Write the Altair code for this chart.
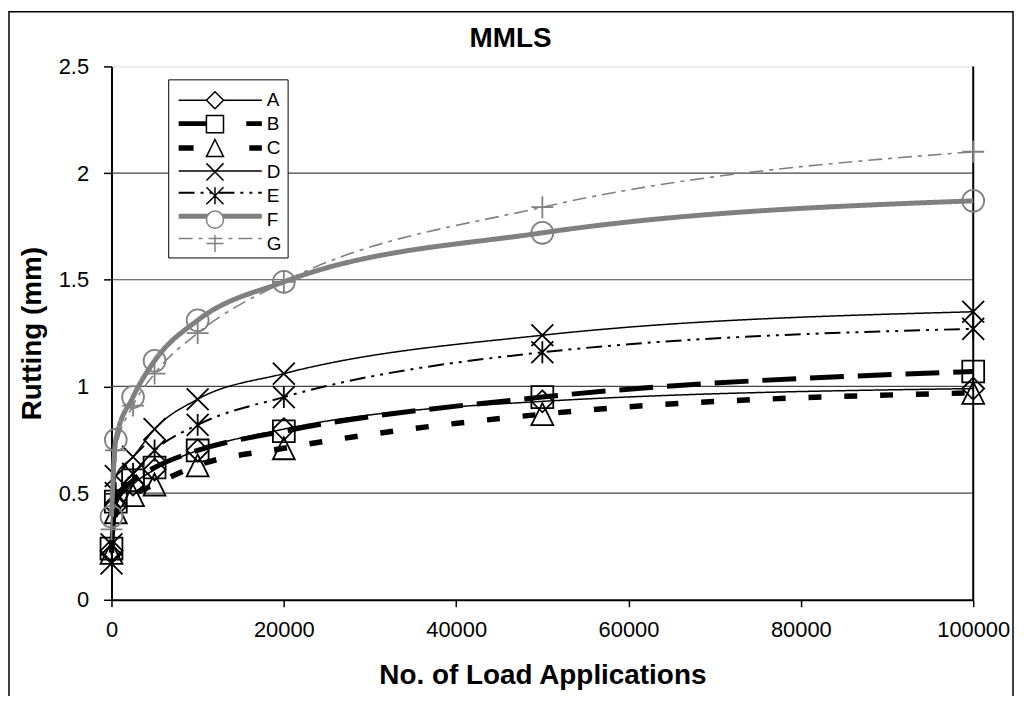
import altair as alt
import pandas as pd

# ---------------- data ----------------
loads = [0, 500, 2500, 5000, 10000, 20000, 50000, 100000]
series_names = ["A", "B", "C", "D", "E", "F", "G"]
rut_A = [0.23, 0.44, 0.54, 0.61, 0.70, 0.80, 0.93, 0.99]
rut_B = [0.24, 0.46, 0.56, 0.62, 0.70, 0.79, 0.95, 1.07]
rut_C = [0.22, 0.41, 0.49, 0.54, 0.63, 0.71, 0.87, 0.97]
rut_D = [0.17, 0.58, 0.67, 0.80, 0.94, 1.06, 1.24, 1.35]
rut_E = [0.26, 0.50, 0.59, 0.70, 0.82, 0.95, 1.16, 1.27]
rut_F = [0.39, 0.75, 0.95, 1.12, 1.31, 1.49, 1.72, 1.87]
rut_G = [0.33, 0.70, 0.91, 1.06, 1.25, 1.49, 1.84, 2.10]
rutting = {"A": rut_A, "B": rut_B, "C": rut_C, "D": rut_D,
           "E": rut_E, "F": rut_F, "G": rut_G}

x_ticks = [0, 20000, 40000, 60000, 80000, 100000]
y_ticks = [0, 0.5, 1, 1.5, 2, 2.5]
grid_values = [0.5, 1.0, 1.5, 2.0]
right_edge = [100000]

# ---------------- styles ----------------
DIAMOND = "M0,-1L1,0L0,1L-1,0Z"
SQUARE = "M-1,-1L1,-1L1,1L-1,1Z"
TRIANGLE = "M0,-1L1,1L-1,1Z"
XMARK = "M-1,-1L1,1M-1,1L1,-1"
ASTER = "M-1,-1L1,1M-1,1L1,-1M0,-1L0,1"
CIRCLE = "circle"
PLUS = "M-1,0L1,0M0,-1L0,1"

# smaller versions used for the legend symbols
k = 0.78
L_DIAMOND = f"M0,-{k}L{k},0L0,{k}L-{k},0Z"
L_SQUARE = f"M-{k},-{k}L{k},-{k}L{k},{k}L-{k},{k}Z"
L_TRIANGLE = f"M0,-{k}L{k},{k}L-{k},{k}Z"
L_XMARK = f"M-{k},-{k}L{k},{k}M-{k},{k}L{k},-{k}"
L_ASTER = f"M-{k},-{k}L{k},{k}M-{k},{k}L{k},-{k}M0,-{k}L0,{k}"
L_CIRCLE = f"M{k},0A{k},{k} 0 1,1 -{k},0A{k},{k} 0 1,1 {k},0Z"
L_PLUS = f"M-{k},0L{k},0M0,-{k}L0,{k}"

GRAY = "#808080"
line_color = {"A": "black", "B": "black", "C": "black", "D": "black",
              "E": "black", "F": GRAY, "G": GRAY}
line_width = {"A": 1.5, "B": 5, "C": 5.5, "D": 1.5, "E": 2, "F": 5, "G": 1.6}
line_dash = {"A": [1, 0], "B": [34, 14], "C": [13, 23], "D": [1, 0],
             "E": [16, 6, 3, 6, 3, 6], "F": [1, 0], "G": [14, 6, 4, 6]}
legend_dash = {"A": [1, 0], "B": [30, 38], "C": [15, 56], "D": [1, 0],
               "E": [16, 6, 3, 6, 3, 6], "F": [1, 0], "G": [14, 6, 4, 6]}
marker = {"A": DIAMOND, "B": SQUARE, "C": TRIANGLE, "D": XMARK,
          "E": ASTER, "F": CIRCLE, "G": PLUS}
legend_marker = {"A": L_DIAMOND, "B": L_SQUARE, "C": L_TRIANGLE, "D": L_XMARK,
                 "E": L_ASTER, "F": L_CIRCLE, "G": L_PLUS}

FONT = "Liberation Sans"
W, H = 866, 536

xscale = alt.Scale(domain=[0, 100000], nice=False, zero=False)
yscale = alt.Scale(domain=[0, 2.5], nice=False, zero=False)

xaxis = alt.Axis(title="No. of Load Applications", values=x_ticks, format="d",
                 labelFont=FONT, labelFontSize=22, labelColor="black",
                 labelPadding=13, labelFlush=False, labelOverlap=False,
                 tickColor="black", tickSize=7, tickWidth=1.5,
                 domainColor="black", domainWidth=2, grid=False,
                 titleFont=FONT, titleFontSize=28, titleFontWeight="bold",
                 titleColor="black", titlePadding=21)
yaxis = alt.Axis(title="Rutting (mm)", values=y_ticks, format="~g",
                 labelFont=FONT, labelFontSize=22, labelColor="black",
                 labelPadding=15, labelFlush=False, labelOverlap=False,
                 tickColor="black", tickSize=8, tickWidth=1.5,
                 domainColor="black", domainWidth=2, grid=False,
                 titleFont=FONT, titleFontSize=28, titleFontWeight="bold",
                 titleColor="black", titlePadding=12)


def X(field):
    return alt.X(field, scale=xscale, axis=xaxis)


def Y(field):
    return alt.Y(field, scale=yscale, axis=yaxis)


layers = []

# horizontal gridlines
grid_df = pd.DataFrame({"g": grid_values})
layers.append(alt.Chart(grid_df).mark_rule(color="#444444", strokeWidth=1.2)
              .encode(y=Y("g:Q")))

# right border line at 100000
edge_df = pd.DataFrame({"e": right_edge})
layers.append(alt.Chart(edge_df).mark_rule(color="black", strokeWidth=2)
              .encode(x=X("e:Q")))

# series
for s in series_names:
    df = pd.DataFrame({"load": loads, "rut": rutting[s]})
    layers.append(
        alt.Chart(df).mark_line(interpolate="monotone", color=line_color[s],
                                strokeWidth=line_width[s],
                                strokeDash=line_dash[s])
        .encode(x=X("load:Q"), y=Y("rut:Q"))
    )
    layers.append(
        alt.Chart(df).mark_point(shape=marker[s], size=484, filled=False,
                                 color=line_color[s], strokeWidth=1.8,
                                 opacity=1)
        .encode(x=X("load:Q"), y=Y("rut:Q"))
    )

# ---------------- legend (two stacked legends: lines, then markers) ----------
legend_df = pd.DataFrame({"s1": series_names, "s2": series_names,
                          "load": [0] * 7, "rut": [-1.0] * 7})

common = dict(orient="none", legendX=57, legendY=13, title=None,
              symbolSize=484, labelFont=FONT, labelFontSize=19,
              labelColor="black", padding=9, symbolOffset=26,
              rowPadding=0, labelLimit=0)

leg_lines = alt.Legend(symbolType="M-3.5,0H4.1", labelExpr="''",
                       labelOffset=48, strokeColor="black",
                       fillColor="white", **common)
leg_marks = alt.Legend(labelOffset=40, symbolStrokeWidth=1.5,
                       symbolFillColor="white", **common)

layers.append(
    alt.Chart(legend_df).mark_point(clip=True, filled=False, opacity=1)
    .encode(
        x=X("load:Q"), y=Y("rut:Q"),
        color=alt.Color("s1:N", scale=alt.Scale(
            domain=series_names,
            range=[line_color[s] for s in series_names]), legend=leg_lines),
        strokeDash=alt.StrokeDash("s1:N", scale=alt.Scale(
            domain=series_names,
            range=[legend_dash[s] for s in series_names]), legend=leg_lines),
        strokeWidth=alt.StrokeWidth("s1:N", scale=alt.Scale(
            type="ordinal", domain=series_names,
            range=[line_width[s] for s in series_names]),
            legend=leg_lines),
    )
)
layers.append(
    alt.Chart(legend_df).mark_point(clip=True, filled=True, fill="white",
                                    strokeWidth=1.5, opacity=1)
    .encode(
        x=X("load:Q"), y=Y("rut:Q"),
        shape=alt.Shape("s2:N", scale=alt.Scale(
            range=[legend_marker[s] for s in series_names]), legend=leg_marks),
        stroke=alt.Stroke("s2:N", scale=alt.Scale(
            range=[line_color[s] for s in series_names]), legend=leg_marks),
    )
)

# outer frame (decoration)
frame_df = pd.DataFrame({"k": [0]})
layers.append(
    alt.Chart(frame_df).mark_rect(fillOpacity=0, stroke="black", strokeWidth=1.5)
    .encode(x=alt.value(-103), x2=alt.value(906),
            y=alt.value(-55), y2=alt.value(640))
)

chart = alt.layer(*layers).properties(
    width=W, height=H,
    title=alt.TitleParams("MMLS", font=FONT, fontSize=28, fontWeight="bold",
                          color="black", anchor="middle", frame="group",
                          dx=-32, offset=-42),
    padding={"left": 104, "top": 57, "right": 43, "bottom": 95},
    autosize=alt.AutoSizeParams(type="none"),
).configure_view(stroke=None).configure(background="white")

chart.save("out.html", embed_options={"renderer": "svg", "actions": False})
